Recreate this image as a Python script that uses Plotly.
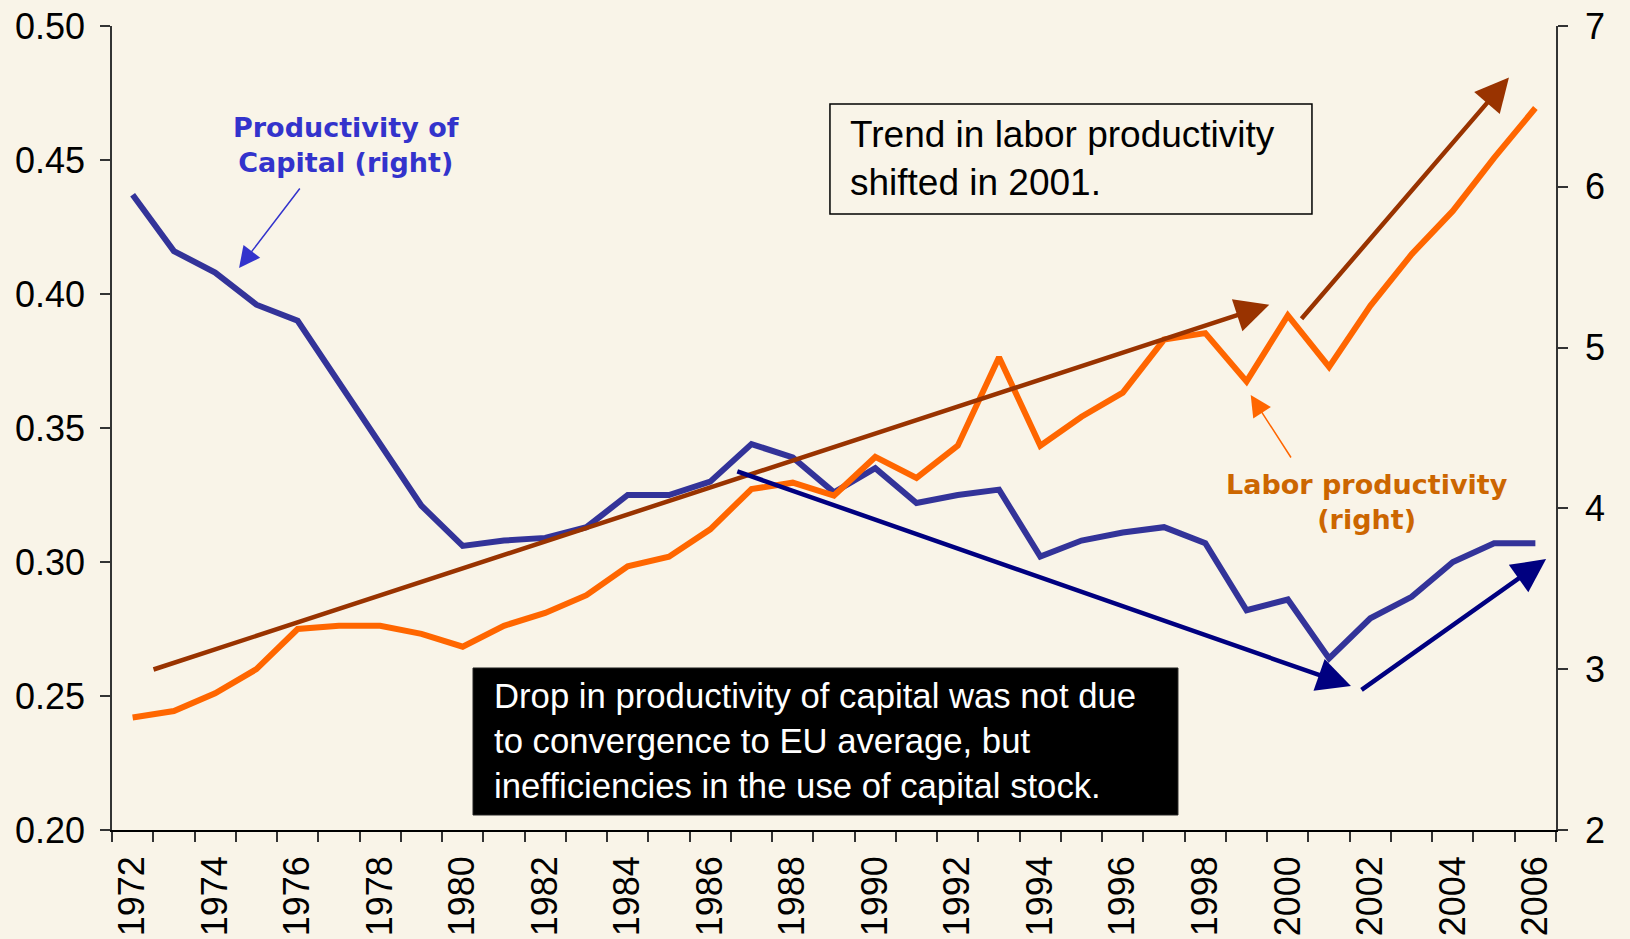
import plotly.graph_objects as go

years = list(range(1972, 2007))
capital_productivity = [0.437, 0.416, 0.408, 0.396, 0.390, 0.367, 0.345, 0.321, 0.306, 0.308,
                        0.309, 0.313, 0.325, 0.325, 0.330, 0.344, 0.339, 0.326, 0.335, 0.322,
                        0.325, 0.327, 0.302, 0.308, 0.311, 0.313, 0.307, 0.282, 0.286, 0.264,
                        0.279, 0.287, 0.300, 0.307, 0.307]
labor_productivity = [2.70, 2.74, 2.85, 3.00, 3.25, 3.27, 3.27, 3.22, 3.14, 3.27,
                      3.35, 3.46, 3.64, 3.70, 3.87, 4.12, 4.16, 4.08, 4.32, 4.19,
                      4.39, 4.94, 4.39, 4.57, 4.72, 5.05, 5.09, 4.79, 5.20, 4.88,
                      5.26, 5.58, 5.85, 6.18, 6.49]
left_ticks = [0.20, 0.25, 0.30, 0.35, 0.40, 0.45, 0.50]
right_ticks = [2, 3, 4, 5, 6, 7]
year_labels = list(range(1972, 2007, 2))

BG = "#F9F4E8"
BLUE = "#333399"
ORANGE = "#FF6600"
BROWN = "#993300"
NAVY = "#000080"
FONT = "Liberation Sans"
BOLDFONT = "DejaVu Sans"

fig = go.Figure()
fig.add_trace(go.Scatter(x=years, y=capital_productivity, mode="lines",
                         line=dict(color=BLUE, width=6), yaxis="y", showlegend=False))
fig.add_trace(go.Scatter(x=years, y=labor_productivity, mode="lines",
                         line=dict(color=ORANGE, width=6), yaxis="y2", showlegend=False))

annotations = []

def arrow(x0, y0, x1, y1, color, width, yref="y", size=1.5, head=2):
    annotations.append(dict(x=x1, y=y1, ax=x0, ay=y0, xref="x", yref=yref,
                            axref="x", ayref=yref, text="", showarrow=True,
                            arrowhead=head, arrowsize=size, arrowwidth=width,
                            arrowcolor=color, standoff=0, startstandoff=0))

# trend arrows
arrow(1972.47, 0.2597, 1999.55, 0.3960, BROWN, 4.5)
arrow(2000.3, 5.17, 2005.36, 6.68, BROWN, 4.5, yref="y2")
arrow(1986.62, 0.334, 2001.53, 0.2537, NAVY, 4.5)
arrow(2001.75, 0.2519, 2006.26, 0.3011, NAVY, 4.5)
# label pointers
arrow(1976.08, 0.4399, 1974.58, 0.4097, "#3333CC", 1.5, size=2.8)
arrow(2000.10, 4.307, 1999.1, 4.705, ORANGE, 1.5, yref="y2", size=2.8)

annotations.append(dict(x=1977.17, y=0.4556, xref="x", yref="y", showarrow=False,
                        text="<b>Productivity of<br>Capital (right)</b>",
                        font=dict(family=BOLDFONT, size=27, color="#3333CC"), align="center"))
annotations.append(dict(x=2001.92, y=4.04, xref="x", yref="y2", showarrow=False,
                        text="<b>Labor productivity<br>(right)</b>",
                        font=dict(family=BOLDFONT, size=27, color="#CC6600"), align="center"))

# text boxes (positions in paper fractions of the plot area)
annotations.append(dict(x=0.5097, y=0.8346, xref="paper", yref="paper",
                        xanchor="left", yanchor="middle", showarrow=False,
                        text="Trend in labor productivity<br>shifted in 2001.",
                        font=dict(family=FONT, size=37, color="black"), align="left"))
annotations.append(dict(x=0.2631, y=0.1101, xref="paper", yref="paper",
                        xanchor="left", yanchor="middle", showarrow=False,
                        text="Drop in productivity of capital was not due<br>to convergence to EU average, but<br>inefficiencies in the use of capital stock.",
                        font=dict(family=FONT, size=34.7, color="white"), align="left"))

shapes = [
    dict(type="rect", xref="paper", yref="paper", x0=0.4972, x1=0.8310, y0=0.7662, y1=0.9030,
         line=dict(color="black", width=1.5), fillcolor=BG, layer="above"),
    dict(type="rect", xref="paper", yref="paper", x0=0.2500, x1=0.7382, y0=0.01866, y1=0.2015,
         line=dict(color="#222222", width=1), fillcolor="black", layer="above"),
]

fig.update_layout(
    width=1630, height=939,
    margin=dict(l=112, r=74, t=26, b=109, autoexpand=False),
    paper_bgcolor=BG, plot_bgcolor=BG,
    showlegend=False,
    font=dict(family=FONT, size=36, color="black"),
    xaxis=dict(range=[1971.5, 2006.5], tickmode="array", tickvals=year_labels,
               ticktext=[str(y) for y in year_labels], tickangle=-90,
               ticks="outside", ticklen=10, tickcolor="rgba(0,0,0,0)",
               showline=True, linecolor="black", linewidth=1.5, showgrid=False, zeroline=False,
               automargin=False, tickfont=dict(family=FONT, size=36),
               minor=dict(tick0=1971.5, dtick=1, ticks="outside", ticklen=10,
                          tickcolor="#333333", tickwidth=1.5, showgrid=False)),
    yaxis=dict(range=[0.20, 0.50], tickmode="array", tickvals=left_ticks,
               ticktext=[f"{v:.2f}" for v in left_ticks],
               ticks="outside", ticklen=10, tickcolor="#333333", tickwidth=1.5,
               showline=True, linecolor="#333333", linewidth=1.5, showgrid=False, zeroline=False,
               automargin=False, ticklabelstandoff=8, tickfont=dict(family=FONT, size=36)),
    yaxis2=dict(range=[2, 7], tickmode="array", tickvals=right_ticks,
                ticks="outside", ticklen=10, tickcolor="#333333", tickwidth=1.5,
                overlaying="y", side="right", anchor="x",
                showline=True, linecolor="#333333", linewidth=1.5, showgrid=False, zeroline=False,
                automargin=False, ticklabelstandoff=10, tickfont=dict(family=FONT, size=36)),
    annotations=annotations,
    shapes=shapes,
)

fig.write_html("out.html", config={"displayModeBar": False},
               post_script="document.body.style.margin='0';document.body.style.background='%s';" % BG)
